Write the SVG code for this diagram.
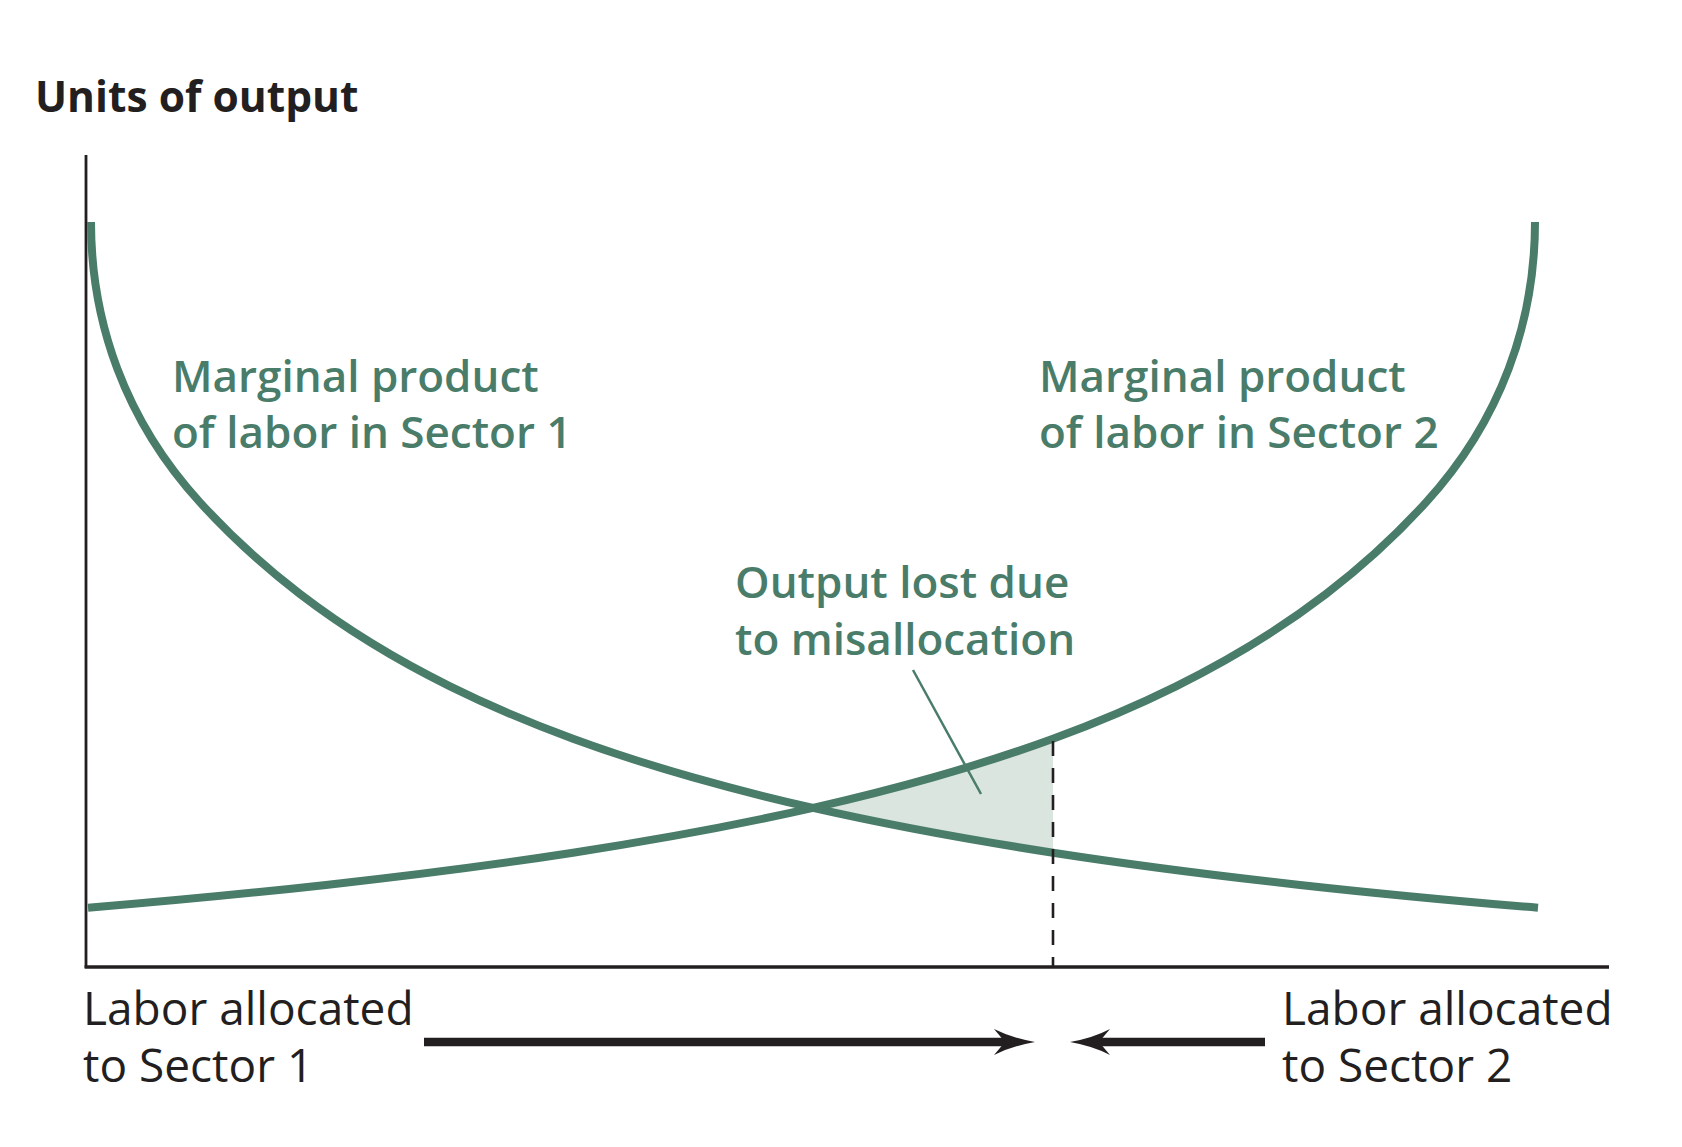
<svg xmlns="http://www.w3.org/2000/svg" width="1682" height="1147" viewBox="0 0 1682 1147">
<defs>
<style>
.g{fill:#4a7c6a;font-family:"Open Sans","DejaVu Sans",sans-serif;font-weight:600;font-size:44px}
.k{fill:#231f20;font-family:"Open Sans","DejaVu Sans",sans-serif;font-weight:400;font-size:46px}
.t{fill:#231f20;font-family:"Open Sans","DejaVu Sans",sans-serif;font-weight:700;font-size:42.5px}
.curve{fill:none;stroke:#4a7c6a;stroke-width:8}
.axis{fill:none;stroke:#231f20}
.arr{fill:none;stroke:#231f20;stroke-width:8.5}
.head{fill:#231f20;stroke:none}
</style>
<path id="mpl" d="M91,222 C91,322 125,420.3 200,502.4 C233.3,538.9 266.7,568.5 300,594 C350,632.3 400,661.6 450,686.3 C491,706.6 532,723.7 573,738.7 C613,753.4 653,766 693,777.4 C733,788.8 773,798.8 813,807.9 C893,826 973,840.4 1053,852.7 C1135.3,865.4 1217.7,875.8 1300,884.9 C1379.3,893.7 1458.7,901.1 1538,907.8"/>
</defs>
<rect width="1682" height="1147" fill="#ffffff"/>

<g id="shaded-area">
<path d="M813,807.9 C893,826 973,840.4 1053,852.7 L1053,738.7 C1013,753.4 973,766 933,777.4 C893,788.8 853,798.8 813,807.9 Z" fill="#d9e5de"/>
</g>

<g id="axes">
<line class="axis" x1="86" y1="155" x2="86" y2="968" stroke-width="2.8"/>
<line class="axis" x1="84.6" y1="967" x2="1609" y2="967" stroke-width="3.5"/>
<text class="t" x="35" y="112">Units of output</text>
</g>

<g id="curve-sector1">
<use href="#mpl" class="curve"/>
<text class="g" x="172" y="392">Marginal product</text>
<text class="g" x="172" y="448">of labor in Sector 1</text>
</g>

<g id="curve-sector2">
<use href="#mpl" class="curve" transform="translate(1626 0) scale(-1 1)"/>
<text class="g" x="1039" y="392">Marginal product</text>
<text class="g" x="1039" y="448">of labor in Sector 2</text>
</g>

<g id="output-lost">
<text class="g" x="735" y="598">Output lost due</text>
<text class="g" x="735" y="655">to misallocation</text>
</g>

<g id="labor-sector1">
<text class="k" x="83" y="1025">Labor allocated</text>
<text class="k" x="83" y="1082">to Sector 1</text>
</g>

<g id="labor-sector2">
<text class="k" x="1282" y="1025">Labor allocated</text>
<text class="k" x="1282" y="1082">to Sector 2</text>
</g>

<g id="connectors">
<line x1="913" y1="670" x2="981" y2="794" stroke="#4a7c6a" stroke-width="2.5"/>
<line x1="1053" y1="741" x2="1053" y2="966" stroke="#231f20" stroke-width="2.6" stroke-dasharray="15 12"/>
<line class="arr" x1="424" y1="1042" x2="1008" y2="1042"/>
<path class="head" d="M1035,1042 Q1012,1038 994,1029 L1005,1042 L994,1055 Q1012,1046 1035,1042 Z"/>
<line class="arr" x1="1265" y1="1042" x2="1097" y2="1042"/>
<path class="head" d="M1070,1042 Q1093,1038 1110,1029 L1099,1042 L1110,1055 Q1093,1046 1070,1042 Z"/>
</g>
</svg>
